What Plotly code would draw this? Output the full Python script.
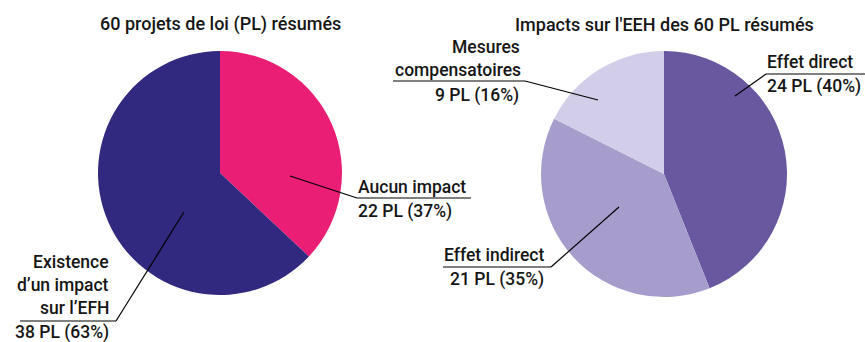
import plotly.graph_objects as go

W, H = 865, 342

# Left pie: all 60 bills
left_labels = ["Aucun impact", "Existence d'un impact sur l'EFH"]
left_counts = [22, 38]
left_pcts = [37, 63]
left_colors = ["#E91E74", "#31287F"]

# Right pie: effects on EEH
right_labels = ["Effet direct", "Effet indirect", "Mesures compensatoires"]
right_counts = [24, 21, 9]
right_pcts = [40, 35, 16]
right_colors = ["#6957A0", "#A79DCD", "#D2CDE9"]

titles = ["60 projets de loi (PL) résumés", "Impacts sur l'EEH des 60 PL résumés"]

FONT = "Roboto"
INK = "#161616"


def px(x):
    return x / W


def py(y):
    return 1 - y / H


def pie_domain(cx, cy, r):
    return dict(x=[px(cx - r), px(cx + r)], y=[py(cy + r), py(cy - r)])


fig = go.Figure()
fig.add_trace(go.Pie(
    labels=left_labels, values=left_pcts, sort=False, direction="clockwise",
    rotation=0, marker=dict(colors=left_colors, line=dict(width=0)),
    textinfo="none", hoverinfo="none", showlegend=False,
    domain=pie_domain(220, 173, 122),
))
fig.add_trace(go.Pie(
    labels=right_labels, values=right_pcts, sort=False, direction="clockwise",
    rotation=0, marker=dict(colors=right_colors, line=dict(width=0)),
    textinfo="none", hoverinfo="none", showlegend=False,
    domain=pie_domain(664, 174, 123),
))

annotations = []
shapes = []


def text(x, y, s, anchor="left", size=17.5):
    annotations.append(dict(
        x=px(x), y=py(y), xref="paper", yref="paper", text=s, showarrow=False,
        xanchor=anchor, yanchor="middle", align=anchor,
        font=dict(family=FONT, size=size, color=INK, weight=500),
    ))


def line(x0, y0, x1, y1):
    shapes.append(dict(type="line", xref="paper", yref="paper",
                       x0=px(x0), y0=py(y0), x1=px(x1), y1=py(y1),
                       line=dict(color="#000000", width=1.2)))


# Titles
text(220, 24, titles[0], "center", 18)
text(664, 24, titles[1], "center", 18)

# Aucun impact
text(356, 187, left_labels[0])
text(356, 211, f"{left_counts[0]} PL ({left_pcts[0]}%)")
line(357, 198, 471, 198)
line(290, 176, 357, 198)

# Existence d'un impact
text(111, 262, "Existence", "right")
text(111, 285, "d’un impact", "right")
text(111, 308, "sur l’EFH", "right")
text(111, 332, f"{left_counts[1]} PL ({left_pcts[1]}%)", "right")
line(20, 321, 116, 321)
line(116, 321, 184, 212)

# Effet direct
text(765, 62, right_labels[0])
text(765, 86, f"{right_counts[0]} PL ({right_pcts[0]}%)")
line(766, 74, 865, 74)
line(766, 74, 735, 96)

# Effet indirect
text(546, 255, right_labels[1], "right")
text(546, 279, f"{right_counts[1]} PL ({right_pcts[1]}%)", "right")
line(443, 267, 551, 267)
line(551, 267, 619, 207)

# Mesures compensatoires
text(522, 47, "Mesures", "right")
text(523, 70, "compensatoires", "right")
text(521, 95, f"{right_counts[2]} PL ({right_pcts[2]}%)", "right")
line(393, 81, 525, 81)
line(525, 81, 598, 100)

fig.update_layout(
    width=W, height=H, margin=dict(l=0, r=0, t=0, b=0),
    paper_bgcolor="white", plot_bgcolor="white",
    annotations=annotations, shapes=shapes,
)

fig.write_html("out.html")
